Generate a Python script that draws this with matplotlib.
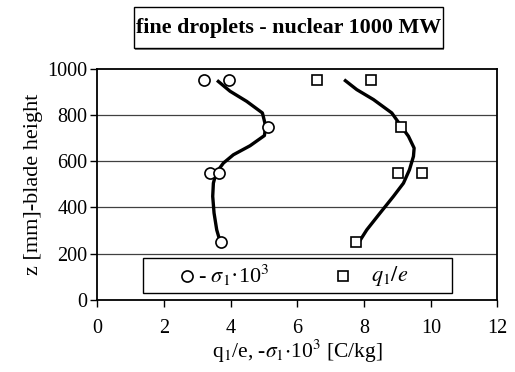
import matplotlib
matplotlib.use("Agg")
import matplotlib.pyplot as plt
from matplotlib.patches import Rectangle

plt.rcParams['font.family'] = ['Liberation Serif', 'DejaVu Serif']
plt.rcParams['mathtext.fontset'] = 'stix'

# measured points
sigma_x = [3.19, 3.96, 5.11, 3.38, 3.66, 3.71]
sigma_z = [950, 950, 750, 550, 550, 250]
q_x = [6.58, 8.20, 9.11, 9.02, 9.73, 7.75]
q_z = [950, 950, 750, 550, 550, 250]

# fitted curves
sig_fit_x = [3.59, 3.98, 4.48, 4.95, 5.05, 5.01, 4.58, 4.08, 3.78, 3.56, 3.48, 3.46, 3.50, 3.58, 3.68]
sig_fit_z = [950, 903, 859, 809, 751, 711, 667, 628, 592, 549, 505, 448, 376, 303, 253]
q_fit_x = [7.40, 7.78, 8.28, 8.83, 9.08, 9.33, 9.50, 9.48, 9.36, 9.18, 8.88, 8.48, 8.08, 7.86]
q_fit_z = [953, 910, 867, 809, 758, 708, 657, 621, 563, 505, 448, 376, 303, 253]

xticks = [0, 2, 4, 6, 8, 10, 12]
yticks = [0, 200, 400, 600, 800, 1000]
legend_labels = [r'- $\sigma_1$·10$^3$', r'$q_1/e$']
title = 'fine droplets - nuclear 1000 MW'

fig = plt.figure(figsize=(5.15, 3.72), dpi=100)
ax = fig.add_axes([0.189, 0.194, 0.777, 0.621])

for y in yticks[1:-1]:
    ax.axhline(y, color='#404040', lw=0.9, zorder=1)

ax.plot(sig_fit_x, sig_fit_z, color='black', lw=2.4, zorder=2, solid_capstyle='butt')
ax.plot(q_fit_x, q_fit_z, color='black', lw=2.4, zorder=2, solid_capstyle='butt')
ax.plot(sigma_x, sigma_z, 'o', ms=8, mfc='white', mec='black', mew=1.2, ls='none', zorder=3)
ax.plot(q_x, q_z, 's', ms=7.5, mfc='white', mec='black', mew=1.2, ls='none', zorder=3)

ax.set_xlim(0, 12)
ax.set_ylim(0, 1000)
ax.set_xticks(xticks)
ax.set_yticks(yticks)
ax.tick_params(axis='both', direction='out', length=5, width=1, labelsize=14.5, color='black')
ax.tick_params(axis='x', pad=9)
ax.tick_params(axis='y', pad=2)
for s in ax.spines.values():
    s.set_linewidth(1.3)
    s.set_color('black')

ax.set_xlabel(r'q$_{\rm 1}$/e, -$\sigma_{\rm 1}$$\cdot$10$^3$ [C/kg]', fontsize=15.5, labelpad=0)
ax.set_ylabel('z [mm]-blade height', fontsize=16, labelpad=3)

# legend box drawn manually (axes coordinates)
tr = ax.transAxes
ax.add_patch(Rectangle((0.115, 0.029), 0.771, 0.152, transform=tr, fc='white',
                       ec='black', lw=1.0, zorder=5))
ax.plot([0.2235], [0.105], 'o', transform=tr, ms=8, mfc='white', mec='black', mew=1.2,
        zorder=6, clip_on=False)
ax.text(0.252, 0.105, legend_labels[0], transform=tr, fontsize=16, va='center', ha='left', zorder=6)
ax.plot([0.6145], [0.105], 's', transform=tr, ms=7.5, mfc='white', mec='black', mew=1.2,
        zorder=6, clip_on=False)
ax.text(0.685, 0.105, legend_labels[1], transform=tr, fontsize=16, va='center', ha='left', zorder=6)

# title box with slight shadow
fig.patches.append(Rectangle((0.262, 0.866), 0.600, 0.110, transform=fig.transFigure,
                             fc='#808080', ec='none', zorder=0))
fig.patches.append(Rectangle((0.260, 0.871), 0.600, 0.110, transform=fig.transFigure,
                             fc='white', ec='black', lw=1.0, zorder=1))
fig.text(0.561, 0.926, title, fontsize=15.8, fontweight='bold', ha='center', va='center', zorder=2)

fig.savefig('out.png', dpi=100)
